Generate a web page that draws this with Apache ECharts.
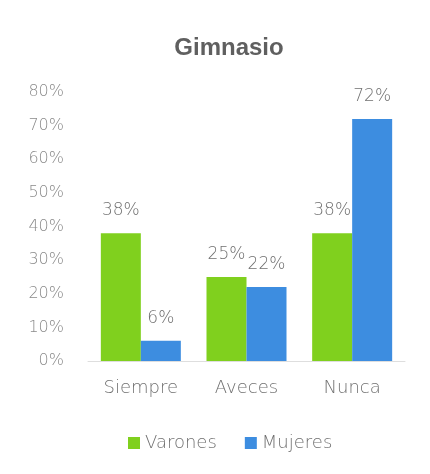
<!DOCTYPE html>
<html>
<head>
<meta charset="utf-8">
<script src="https://cdn.jsdelivr.net/npm/echarts@6/dist/echarts.min.js"></script>
<style>
  html, body { margin: 0; padding: 0; background: #fff; }
  #myChart { width: 430px; height: 474px; }
</style>
</head>
<body>
<div id="myChart"></div>
<script>
// categories and values (percent)
var categories = ["Siempre", "Aveces", "Nunca"];
var varones = [38, 25, 38];
var mujeres = [6, 22, 72];
var seriesNames = ["Varones", "Mujeres"];

var textColor = "#707070";
var font = "'DejaVu Sans', sans-serif";

var dataLabel = {
  show: true,
  position: "top",
  distance: 14,
  formatter: "{c}%",
  fontFamily: font,
  fontWeight: 200,
  fontSize: 17,
  color: textColor
};

var option = {
  animation: false,
  backgroundColor: "#ffffff",
  title: {
    text: "Gimnasio",
    left: 224,
    top: 31,
    textAlign: "center",
    textStyle: {
      fontFamily: "'Liberation Sans', Arial, sans-serif",
      fontSize: 24,
      fontWeight: "bold",
      color: "#5f5f5f"
    }
  },
  legend: {
    data: seriesNames,
    left: 123,
    top: 429,
    itemWidth: 12,
    itemHeight: 12,
    itemGap: 28,
    icon: "rect",
    textStyle: { fontFamily: font, fontWeight: 200, fontSize: 18, color: textColor }
  },
  grid: {
    left: 88,
    right: 25,
    top: 92,
    bottom: 113
  },
  xAxis: {
    type: "category",
    data: categories,
    axisLine: { lineStyle: { color: "#dedede" } },
    axisTick: { show: false },
    axisLabel: {
      margin: 18,
      fontFamily: font,
      fontWeight: 200,
      fontSize: 18,
      color: textColor
    }
  },
  yAxis: {
    type: "value",
    min: 0,
    max: 80,
    interval: 10,
    axisLine: { show: false },
    axisTick: { show: false },
    splitLine: { show: false },
    axisLabel: {
      margin: 24,
      formatter: "{value}%",
      fontFamily: font,
      fontWeight: 200,
      fontSize: 16,
      color: "#8a8a8a"
    }
  },
  series: [
    {
      name: seriesNames[0],
      type: "bar",
      data: varones,
      barWidth: 40,
      barGap: "0%",
      itemStyle: { color: "#80d01e" },
      label: dataLabel
    },
    {
      name: seriesNames[1],
      type: "bar",
      data: mujeres,
      barWidth: 40,
      barGap: "0%",
      itemStyle: { color: "#3d8de0" },
      label: dataLabel
    }
  ]
};

var myChart = echarts.init(document.getElementById("myChart"));
myChart.setOption(option);
</script>
</body>
</html>
